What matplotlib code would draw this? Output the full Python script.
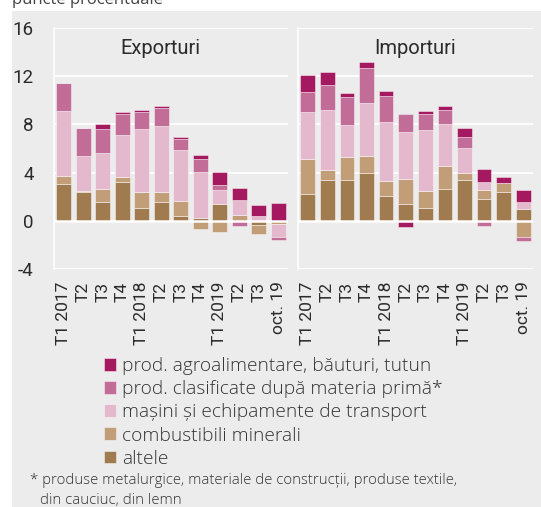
import numpy as np
import matplotlib
matplotlib.use("Agg")
import matplotlib.pyplot as plt
import matplotlib.patches as patches

# data (procentual points contribution)
periods = ["T1 2017", "T2", "T3", "T4", "T1 2018", "T2", "T3", "T4",
           "T1 2019", "T2", "T3", "oct. 19"]
series_names = ["altele", "combustibili minerali",
                "mașini și echipamente de transport",
                "prod. clasificate după materia primă*",
                "prod. agroalimentare, băuturi, tutun"]

exp_altele = [3.04, 2.35, 1.60, 3.18, 1.10, 1.60, 0.36, 0.20, 1.41, 0.00, -0.33, 0.00]
exp_comb   = [0.64, 0.14, 1.08, 0.42, 1.33, 0.81, 1.30, -0.70, -0.91, 0.50, -0.75, -0.28]
exp_masini = [5.45, 2.85, 2.94, 3.56, 5.18, 5.42, 4.18, 3.84, 1.16, 1.24, 0.40, -1.08]
exp_clas   = [2.27, 2.35, 1.96, 1.69, 1.44, 1.57, 0.91, 1.10, 0.41, -0.40, 0.00, -0.27]
exp_agro   = [0.00, 0.00, 0.47, 0.17, 0.13, 0.14, 0.19, 0.33, 1.10, 0.97, 0.91, 1.44]

imp_altele = [2.21, 3.35, 3.40, 3.93, 2.02, 1.38, 1.10, 2.63, 3.40, 1.83, 2.35, 1.00]
imp_comb   = [2.96, 0.83, 1.86, 1.41, 1.30, 2.05, 1.39, 1.88, 0.60, 0.69, 0.78, -1.38]
imp_masini = [3.88, 5.00, 2.71, 4.42, 4.87, 3.90, 5.01, 3.54, 2.08, 0.69, 0.00, 0.55]
imp_clas   = [1.60, 2.10, 2.32, 2.88, 2.16, 1.52, 1.35, 1.11, 0.86, -0.45, 0.00, -0.28]
imp_agro   = [1.47, 1.05, 0.30, 0.53, 0.44, -0.50, 0.28, 0.38, 0.77, 1.08, 0.47, 1.02]

colors = ["#a07b50", "#c19d78", "#e4b9cd", "#c26d97", "#a4195f"]
BG = "#ececec"
TXT = "#2b2b2b"
NARROW = ["Liberation Sans Narrow", "Roboto"]

fig = plt.figure(figsize=(5.41, 5.07), dpi=100)
fig.patch.set_facecolor("white")
W, H = 541, 507

# grey panel behind everything
fig.patches.append(patches.Rectangle((12 / W, 0), 1 - 12 / W, 1 - 11 / H,
                                     transform=fig.transFigure,
                                     facecolor=BG, edgecolor="none", zorder=-5))
fig.text(12 / W, 1 - 4 / H, "puncte procentuale", fontsize=12,
         family="Open Sans", color="#444444", va="baseline", ha="left")


def stacked(ax, data):
    x = np.arange(len(periods))
    pos = np.zeros(len(periods))
    neg = np.zeros(len(periods))
    for vals, c, name in zip(data, colors, series_names):
        v = np.array(vals)
        bottom = np.where(v >= 0, pos, neg)
        ax.bar(x, v, 0.75, bottom=bottom, color=c, label=name,
               edgecolor=(1, 1, 1, 0.45), linewidth=0.7, zorder=3)
        pos = pos + np.clip(v, 0, None)
        neg = neg + np.clip(v, None, 0)


def style(ax, title, tx):
    ax.set_facecolor(BG)
    ax.set_ylim(-4, 16)
    ax.set_xlim(-0.5, len(periods) - 0.5)
    ax.set_yticks([-4, 0, 4, 8, 12, 16])
    ax.grid(axis="y", color="white", linewidth=1.3, zorder=1)
    ax.axhline(0, color="white", linewidth=1.8, zorder=4)
    for s in ["top", "right", "bottom"]:
        ax.spines[s].set_visible(False)
    ax.spines["left"].set_color("white")
    ax.spines["left"].set_linewidth(1.2)
    ax.tick_params(length=0, colors=TXT)
    ax.set_xticks(np.arange(len(periods)))
    ax.set_xticklabels(periods, rotation=90, fontsize=12.5, family=NARROW)
    ax.tick_params(axis="x", pad=9)
    ax.text(tx, 0.917, title, transform=ax.transAxes, ha="center", va="center",
            fontsize=14.5, family=NARROW, color=TXT)


ax1 = fig.add_axes([54 / W, 1 - 269 / H, 234 / W, 241 / H])
ax2 = fig.add_axes([298 / W, 1 - 269 / H, 235 / W, 241 / H])

stacked(ax1, [exp_altele, exp_comb, exp_masini, exp_clas, exp_agro])
stacked(ax2, [imp_altele, imp_comb, imp_masini, imp_clas, imp_agro])
style(ax1, "Exporturi", 0.455)
style(ax2, "Importuri", 0.5)

ax1.set_yticklabels(["-4", "0", "4", "8", "12", "16"], fontsize=13.5, family=NARROW)
ax1.tick_params(axis="y", pad=14.5)
ax2.set_yticklabels([])

handles, labels = ax1.get_legend_handles_labels()
fig.legend(handles[::-1], labels[::-1], loc="upper left",
           bbox_to_anchor=(104 / W, 1 - 357 / H), frameon=False,
           handlelength=0.65, handleheight=0.65, handletextpad=0.3,
           labelspacing=0.27, borderaxespad=0, borderpad=0,
           prop={"family": "Open Sans", "size": 13.8, "weight": "light"},
           labelcolor="#333333")

fig.text(30 / W, 1 - 481 / H,
         "* produse metalurgice, materiale de construcții, produse textile,",
         fontsize=10.7, family="Open Sans", weight="light", color="#333333",
         va="center", ha="left")
fig.text(40 / W, 1 - 501 / H, "din cauciuc, din lemn",
         fontsize=10.7, family="Open Sans", weight="light", color="#333333",
         va="center", ha="left")

plt.savefig("out.png", dpi=100, facecolor="white")
